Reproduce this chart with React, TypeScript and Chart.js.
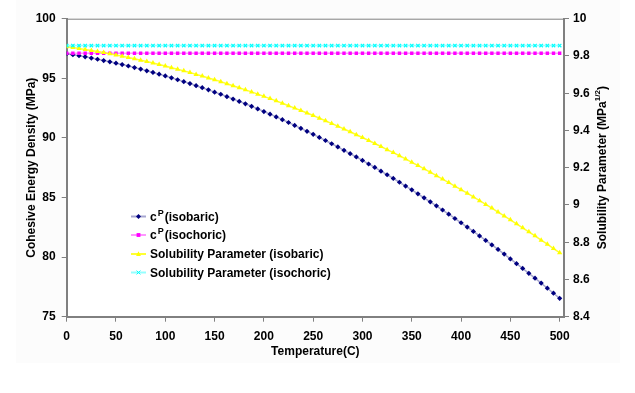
import React, { useEffect, useRef } from "react";
import { Chart, registerables } from "chart.js";

Chart.register(...registerables);

const temps = [
  0, 6.25, 12.5, 18.75, 25, 31.25, 37.5, 43.75, 50, 56.25, 62.5, 68.75, 75, 81.25, 87.5, 93.75,
  100, 106.25, 112.5, 118.75, 125, 131.25, 137.5, 143.75, 150, 156.25, 162.5, 168.75, 175, 181.25, 187.5, 193.75,
  200, 206.25, 212.5, 218.75, 225, 231.25, 237.5, 243.75, 250, 256.25, 262.5, 268.75, 275, 281.25, 287.5, 293.75,
  300, 306.25, 312.5, 318.75, 325, 331.25, 337.5, 343.75, 350, 356.25, 362.5, 368.75, 375, 381.25, 387.5, 393.75,
  400, 406.25, 412.5, 418.75, 425, 431.25, 437.5, 443.75, 450, 456.25, 462.5, 468.75, 475, 481.25, 487.5, 493.75,
  500,
];

// Cohesive energy density, isobaric (MPa) - left axis
const cpIsobaric = [
  97.06, 96.98, 96.89, 96.8, 96.7, 96.6, 96.49, 96.38, 96.27, 96.15, 96.03, 95.9, 95.77, 95.63, 95.49, 95.35,
  95.2, 95.04, 94.88, 94.72, 94.56, 94.38, 94.21, 94.03, 93.84, 93.66, 93.46, 93.26, 93.06, 92.86, 92.65, 92.43,
  92.21, 91.99, 91.76, 91.53, 91.29, 91.05, 90.8, 90.55, 90.3, 90.04, 89.78, 89.51, 89.24, 88.96, 88.68, 88.4,
  88.11, 87.81, 87.52, 87.21, 86.91, 86.6, 86.28, 85.96, 85.64, 85.31, 84.97, 84.64, 84.3, 83.95, 83.6, 83.24,
  82.88, 82.52, 82.15, 81.78, 81.4, 81.02, 80.64, 80.25, 79.85, 79.45, 79.05, 78.64, 78.23, 77.82, 77.39, 76.97,
  76.54,
];

// Cohesive energy density, isochoric (MPa) - left axis
const cpIsochoric = [
  97.1, 97.1, 97.1, 97.1, 97.1, 97.1, 97.1, 97.1, 97.1, 97.1, 97.1, 97.1, 97.1, 97.1, 97.1, 97.1,
  97.1, 97.1, 97.1, 97.1, 97.1, 97.1, 97.1, 97.1, 97.1, 97.1, 97.1, 97.1, 97.1, 97.1, 97.1, 97.1,
  97.1, 97.1, 97.1, 97.1, 97.1, 97.1, 97.1, 97.1, 97.1, 97.1, 97.1, 97.1, 97.1, 97.1, 97.1, 97.1,
  97.1, 97.1, 97.1, 97.1, 97.1, 97.1, 97.1, 97.1, 97.1, 97.1, 97.1, 97.1, 97.1, 97.1, 97.1, 97.1,
  97.1, 97.1, 97.1, 97.1, 97.1, 97.1, 97.1, 97.1, 97.1, 97.1, 97.1, 97.1, 97.1, 97.1, 97.1, 97.1,
  97.1,
];

// Solubility parameter, isobaric (MPa^1/2) - right axis
const solIsobaric = [
  9.85, 9.845, 9.84, 9.835, 9.829, 9.824, 9.818, 9.812, 9.805, 9.799, 9.792, 9.785, 9.777, 9.77, 9.762, 9.754,
  9.746, 9.737, 9.729, 9.72, 9.711, 9.701, 9.692, 9.682, 9.672, 9.662, 9.651, 9.64, 9.629, 9.618, 9.607, 9.595,
  9.583, 9.571, 9.559, 9.546, 9.533, 9.52, 9.507, 9.494, 9.48, 9.466, 9.452, 9.437, 9.423, 9.408, 9.393, 9.377,
  9.362, 9.346, 9.33, 9.314, 9.297, 9.281, 9.264, 9.247, 9.229, 9.212, 9.194, 9.176, 9.157, 9.139, 9.12, 9.101,
  9.082, 9.063, 9.043, 9.023, 9.003, 8.983, 8.962, 8.941, 8.92, 8.899, 8.877, 8.856, 8.834, 8.811, 8.789, 8.766,
  8.744,
];

// Solubility parameter, isochoric (MPa^1/2) - right axis
const solIsochoric = [
  9.856, 9.856, 9.856, 9.856, 9.856, 9.856, 9.856, 9.856, 9.856, 9.856, 9.856, 9.856, 9.856, 9.856, 9.856, 9.856,
  9.856, 9.856, 9.856, 9.856, 9.856, 9.856, 9.856, 9.856, 9.856, 9.856, 9.856, 9.856, 9.856, 9.856, 9.856, 9.856,
  9.856, 9.856, 9.856, 9.856, 9.856, 9.856, 9.856, 9.856, 9.856, 9.856, 9.856, 9.856, 9.856, 9.856, 9.856, 9.856,
  9.856, 9.856, 9.856, 9.856, 9.856, 9.856, 9.856, 9.856, 9.856, 9.856, 9.856, 9.856, 9.856, 9.856, 9.856, 9.856,
  9.856, 9.856, 9.856, 9.856, 9.856, 9.856, 9.856, 9.856, 9.856, 9.856, 9.856, 9.856, 9.856, 9.856, 9.856, 9.856,
  9.856,
];

const xTicks = [0, 50, 100, 150, 200, 250, 300, 350, 400, 450, 500];
const yLeftTicks = [75, 80, 85, 90, 95, 100];
const yRightTicks = [8.4, 8.6, 8.8, 9, 9.2, 9.4, 9.6, 9.8, 10];

const FONT = "'Liberation Sans', Arial, sans-serif";
const AXIS = "#808080";

type Series = {
  label: string;
  sup: string | null;
  rest: string;
  data: number[];
  axis: string;
  color: string;
  line: string;
  style: string;
  radius: number;
};

const series: Series[] = [
  { label: "cP(isobaric)", sup: "P", rest: "(isobaric)", data: cpIsobaric, axis: "yL", color: "#000080", line: "rgba(60,60,150,0.45)", style: "rectRot", radius: 2.6 },
  { label: "cP(isochoric)", sup: "P", rest: "(isochoric)", data: cpIsochoric, axis: "yL", color: "#FF00FF", line: "rgba(255,80,255,0.6)", style: "rect", radius: 2.4 },
  { label: "Solubility Parameter (isobaric)", sup: null, rest: "Solubility Parameter (isobaric)", data: solIsobaric, axis: "yR", color: "#FFFF00", line: "rgba(255,255,0,0.8)", style: "triangle", radius: 3 },
  { label: "Solubility Parameter (isochoric)", sup: null, rest: "Solubility Parameter (isochoric)", data: solIsochoric, axis: "yR", color: "#00FFFF", line: "rgba(80,255,255,0.6)", style: "crossRot", radius: 2.4 },
];

function drawMarker(ctx: CanvasRenderingContext2D, style: string, x: number, y: number, r: number, color: string) {
  ctx.save();
  ctx.fillStyle = color;
  ctx.strokeStyle = color;
  ctx.lineWidth = 1;
  ctx.beginPath();
  if (style === "rectRot") {
    ctx.moveTo(x, y - r * 1.2);
    ctx.lineTo(x + r * 1.2, y);
    ctx.lineTo(x, y + r * 1.2);
    ctx.lineTo(x - r * 1.2, y);
    ctx.closePath();
    ctx.fill();
  } else if (style === "rect") {
    ctx.rect(x - r, y - r, 2 * r, 2 * r);
    ctx.fill();
  } else if (style === "triangle") {
    ctx.moveTo(x, y - r * 1.1);
    ctx.lineTo(x + r, y + r * 0.8);
    ctx.lineTo(x - r, y + r * 0.8);
    ctx.closePath();
    ctx.fill();
  } else {
    ctx.moveTo(x - r, y - r);
    ctx.lineTo(x + r, y + r);
    ctx.moveTo(x + r, y - r);
    ctx.lineTo(x - r, y + r);
    ctx.stroke();
  }
  ctx.restore();
}

const decorPlugin = {
  id: "decor",
  beforeDraw(chart: any) {
    const ctx = chart.ctx as CanvasRenderingContext2D;
    ctx.save();
    ctx.fillStyle = "#ffffff";
    ctx.fillRect(0, 0, chart.width, chart.height);
    ctx.fillStyle = "#fcfcfc";
    ctx.fillRect(16, 0, 604, 363);
    ctx.fillStyle = "#ffffff";
    const a = chart.chartArea;
    ctx.fillRect(a.left, a.top, a.right - a.left, a.bottom - a.top);
    ctx.restore();
  },
  afterDraw(chart: any) {
    const ctx = chart.ctx as CanvasRenderingContext2D;
    const a = chart.chartArea;
    ctx.save();
    // top border of plot box
    ctx.strokeStyle = AXIS;
    ctx.lineWidth = 1;
    ctx.beginPath();
    ctx.moveTo(a.left, a.top + 0.5);
    ctx.lineTo(a.right, a.top + 0.5);
    ctx.stroke();

    ctx.fillStyle = "#000";
    ctx.textBaseline = "middle";
    // x title
    ctx.font = `bold 12px ${FONT}`;
    ctx.textAlign = "center";
    ctx.fillText("Temperature(C)", (a.left + a.right) / 2, 352);

    // left title
    const midY = (a.top + a.bottom) / 2;
    ctx.save();
    ctx.translate(32, midY);
    ctx.rotate(-Math.PI / 2);
    ctx.fillText("Cohesive Energy Density (MPa)", 0, 0);
    ctx.restore();

    // right title with superscript
    ctx.save();
    ctx.translate(603, midY);
    ctx.rotate(-Math.PI / 2);
    ctx.textAlign = "left";
    const t1 = "Solubility Parameter (MPa";
    const t2 = "1/2";
    const t3 = ")";
    ctx.font = `bold 12px ${FONT}`;
    const w1 = ctx.measureText(t1).width;
    const w3 = ctx.measureText(t3).width;
    ctx.font = `bold 8px ${FONT}`;
    const w2 = ctx.measureText(t2).width;
    const total = w1 + w2 + w3;
    let x = -total / 2;
    ctx.font = `bold 12px ${FONT}`;
    ctx.fillText(t1, x, 0);
    x += w1;
    ctx.font = `bold 8px ${FONT}`;
    ctx.fillText(t2, x, -5);
    x += w2;
    ctx.font = `bold 12px ${FONT}`;
    ctx.fillText(t3, x, 0);
    ctx.restore();

    // legend
    const rows = [216.5, 235, 254, 272.5];
    series.forEach((s, i) => {
      const y = rows[i];
      ctx.strokeStyle = s.line;
      ctx.lineWidth = 2;
      ctx.beginPath();
      ctx.moveTo(131, y);
      ctx.lineTo(146, y);
      ctx.stroke();
      drawMarker(ctx, s.style, 138.5, y, s.radius * 0.8, s.color);
      ctx.fillStyle = "#000";
      ctx.textAlign = "left";
      ctx.textBaseline = "middle";
      let tx = 150;
      if (s.sup) {
        ctx.font = `bold 12px ${FONT}`;
        ctx.fillText("c", tx, y + 1);
        tx += ctx.measureText("c").width + 1;
        ctx.font = `bold 9px ${FONT}`;
        ctx.fillText(s.sup, tx, y - 3);
        tx += ctx.measureText(s.sup).width + 1;
      }
      ctx.font = `bold 12px ${FONT}`;
      ctx.fillText(s.rest, tx, y + 1);
    });
    ctx.restore();
  },
};

export default function App() {
  const canvasRef = useRef<HTMLCanvasElement | null>(null);

  useEffect(() => {
    document.body.style.margin = "0";
    const canvas = canvasRef.current;
    if (!canvas) return;
    const datasets = series.map((s) => ({
      label: s.label,
      data: temps.map((t, i) => ({ x: t, y: s.data[i] })),
      yAxisID: s.axis,
      borderColor: s.line,
      borderWidth: 1.5,
      backgroundColor: s.color,
      pointBackgroundColor: s.color,
      pointBorderColor: s.color,
      pointBorderWidth: s.style === "crossRot" ? 1.2 : 0,
      pointStyle: s.style,
      pointRadius: s.radius,
      pointHoverRadius: s.radius,
      tension: 0,
      fill: false,
    }));
    const tickFont = { family: FONT, size: 12, weight: "bold" as const };
    const chart = new Chart(canvas, {
      type: "line",
      data: { datasets: datasets.slice().reverse() as any },
      plugins: [decorPlugin as any],
      options: {
        animation: false,
        responsive: false,
        devicePixelRatio: 1,
        layout: { padding: { top: 18.7, left: 0, right: 0, bottom: 0 } },
        plugins: { legend: { display: false }, tooltip: { enabled: false }, title: { display: false } },
        scales: {
          x: {
            type: "linear",
            position: "bottom",
            min: 0,
            max: 504.4,
            afterBuildTicks: (scale: any) => {
              scale.ticks = xTicks.map((v) => ({ value: v }));
            },
            afterFit: (scale: any) => {
              scale.height = 393 - 316.7;
            },
            grid: { drawOnChartArea: false, drawTicks: true, tickLength: 5, color: AXIS, lineWidth: 1 },
            border: { display: true, color: AXIS, width: 2 },
            ticks: { font: tickFont, color: "#000", padding: 8, maxRotation: 0, autoSkip: false },
          },
          yL: {
            type: "linear",
            position: "left",
            min: 75,
            max: 100,
            afterBuildTicks: (scale: any) => {
              scale.ticks = yLeftTicks.map((v) => ({ value: v }));
            },
            afterFit: (scale: any) => {
              scale.width = 66.7;
            },
            grid: { drawOnChartArea: false, drawTicks: true, tickLength: 5, color: AXIS, lineWidth: 1 },
            border: { display: true, color: AXIS, width: 2 },
            ticks: { font: tickFont, color: "#000", padding: 6, autoSkip: false },
          },
          yR: {
            type: "linear",
            position: "right",
            min: 8.4,
            max: 10,
            afterBuildTicks: (scale: any) => {
              scale.ticks = yRightTicks.map((v) => ({ value: v }));
            },
            afterFit: (scale: any) => {
              scale.width = 635 - 564;
            },
            grid: { drawOnChartArea: false, drawTicks: true, tickLength: 5, color: AXIS, lineWidth: 1 },
            border: { display: true, color: AXIS, width: 2 },
            ticks: {
              font: tickFont,
              color: "#000",
              padding: 4,
              autoSkip: false,
              callback: (v: any) => String(Math.round(Number(v) * 10) / 10),
            },
          },
        },
      } as any,
    });
    return () => chart.destroy();
  }, []);

  return (
    <div style={{ width: 635, height: 393, position: "relative" }}>
      <canvas ref={canvasRef} width={635} height={393} style={{ display: "block" }} />
    </div>
  );
}
